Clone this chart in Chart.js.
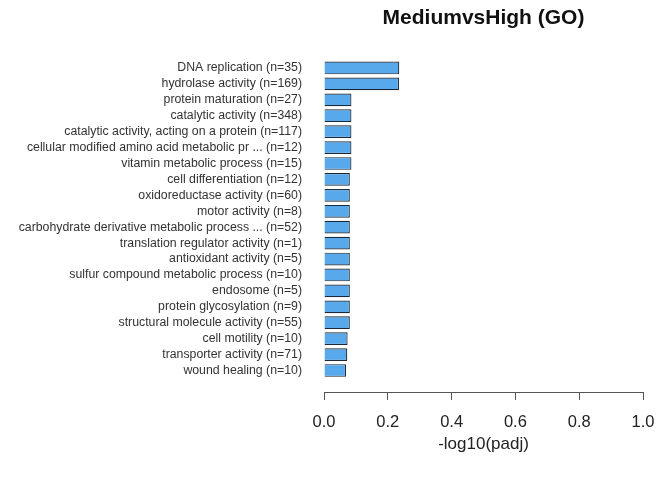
<!DOCTYPE html>
<html>
<head>
<meta charset="utf-8">
<script src="https://cdn.jsdelivr.net/npm/chart.js@4"></script>
<style>
  body { margin: 0; background: #fff; }
  #wrap { width: 659px; height: 479px; }
</style>
</head>
<body>
<div id="wrap"><canvas id="goChart" width="659" height="479"></canvas></div>
<script>
const chartTitle = "MediumvsHigh (GO)";
const axisTitle = "-log10(padj)";

const categories = [
  "DNA replication (n=35)",
  "hydrolase activity (n=169)",
  "protein maturation (n=27)",
  "catalytic activity (n=348)",
  "catalytic activity, acting on a protein (n=117)",
  "cellular modified amino acid metabolic pr ... (n=12)",
  "vitamin metabolic process (n=15)",
  "cell differentiation (n=12)",
  "oxidoreductase activity (n=60)",
  "motor activity (n=8)",
  "carbohydrate derivative metabolic process ... (n=52)",
  "translation regulator activity (n=1)",
  "antioxidant activity (n=5)",
  "sulfur compound metabolic process (n=10)",
  "endosome (n=5)",
  "protein glycosylation (n=9)",
  "structural molecule activity (n=55)",
  "cell motility (n=10)",
  "transporter activity (n=71)",
  "wound healing (n=10)"
];

const padjValues = [
  0.236, 0.235, 0.086, 0.086, 0.086, 0.086, 0.086, 0.081, 0.081, 0.081,
  0.081, 0.081, 0.081, 0.081, 0.081, 0.081, 0.081, 0.074, 0.073, 0.069
];

const xTicks = [0, 0.2, 0.4, 0.6, 0.8, 1.0];

const FONT = "'Liberation Sans', Arial, sans-serif";

// title sits over the plot area, not the whole canvas
const plotTitle = {
  id: "plotTitle",
  afterDraw(chart) {
    const { ctx, chartArea } = chart;
    ctx.save();
    ctx.font = "bold 21px " + FONT;
    ctx.fillStyle = "#111";
    ctx.textAlign = "center";
    ctx.textBaseline = "middle";
    ctx.fillText(chartTitle, (chartArea.left + chartArea.right) / 2, 18);
    ctx.restore();
  }
};

new Chart(document.getElementById("goChart"), {
  type: "bar",
  data: {
    datasets: [{
      data: padjValues.map((v, i) => ({ x: v, y: i })),
      backgroundColor: "#58a8ec",
      borderColor: "#1c2836",
      borderWidth: 1.2,
      barPercentage: 0.8,
      categoryPercentage: 1
    }]
  },
  options: {
    indexAxis: "y",
    responsive: false,
    animation: false,
    devicePixelRatio: 1,
    layout: { padding: { top: 60, right: 16, bottom: 24, left: 0 } },
    plugins: {
      legend: { display: false },
      tooltip: { enabled: false }
    },
    scales: {
      y: {
        type: "linear",
        reverse: true,
        offset: false,
        bounds: "data",
        min: -0.5,
        max: 20.35,
        afterFit: s => { s.width = 324; },
        afterBuildTicks: s => { s.ticks = categories.map((c, i) => ({ value: i })); },
        grid: { display: false, drawTicks: false, offset: false },
        border: { display: false },
        ticks: {
          autoSkip: false,
          padding: 22,
          color: "#333",
          font: { family: FONT, size: 12.3 },
          callback: v => categories[v]
        }
      },
      x: {
        min: 0,
        max: 1,
        afterFit: s => { s.height = 63; s.paddingLeft = 0; s.paddingRight = 0; },
        afterBuildTicks: s => { s.ticks = xTicks.map(v => ({ value: v })); },
        grid: { drawOnChartArea: false, drawTicks: true, tickLength: 8, color: "#555" },
        border: { display: true, color: "#555" },
        ticks: {
          padding: 13,
          color: "#222",
          font: { family: FONT, size: 16.5 },
          callback: v => Number(v).toFixed(1)
        },
        title: {
          display: true,
          text: axisTitle,
          color: "#222",
          padding: 0,
          font: { family: FONT, size: 17 }
        }
      }
    }
  },
  plugins: [plotTitle]
});
</script>
</body>
</html>
